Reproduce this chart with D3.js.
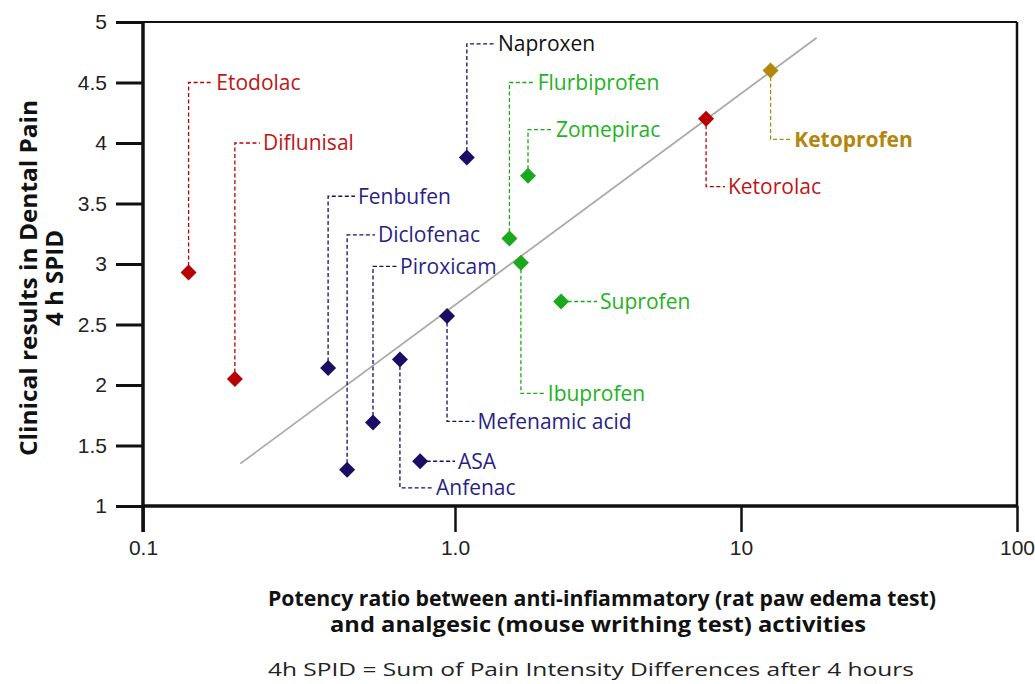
<!DOCTYPE html>
<html>
<head>
<meta charset="utf-8">
<script src="https://cdn.jsdelivr.net/npm/d3@7"></script>
<style>
  body { margin: 0; background: #fff; }
  svg { font-family: "Open Sans", "Noto Sans", sans-serif; }
</style>
</head>
<body>
<svg id="chart"></svg>
<script>
// data
const drugs = ['Etodolac', 'Diflunisal', 'Fenbufen', 'Diclofenac', 'Piroxicam', 'Anfenac', 'ASA',
  'Mefenamic acid', 'Naproxen', 'Flurbiprofen', 'Zomepirac', 'Ibuprofen', 'Suprofen', 'Ketorolac', 'Ketoprofen'];
const potency = [0.140, 0.197, 0.392, 0.451, 0.546, 0.666, 0.773, 0.943, 1.10, 1.55, 1.80, 1.70, 2.35, 7.55, 12.8];
const spid = [2.93, 2.05, 2.14, 1.30, 1.69, 2.21, 1.37, 2.57, 3.88, 3.21, 3.73, 3.01, 2.69, 4.20, 4.60];
const group = ['red', 'red', 'navy', 'navy', 'navy', 'navy', 'navy', 'navy', 'navy', 'green', 'green', 'green', 'green', 'red', 'gold'];
const trend = [[0.205, 1.35], [18.8, 4.87]];
const xTicks = [0.1, 1, 10, 100];
const xTickLabels = ['0.1', '1.0', '10', '100'];
const yTicks = [1, 1.5, 2, 2.5, 3, 3.5, 4, 4.5, 5];

// where each label's leader ends (in data units)
const labelAnchors = [[0.168, 4.5], [0.237, 4.0], [0.478, 3.56], [0.554, 3.24], [0.652, 2.98], [0.85, 1.15], [1.0, 1.37],
  [1.17, 1.70], [1.38, 4.82], [1.90, 4.5], [2.20, 4.11], [2.06, 1.93], [3.14, 2.69], [8.79, 3.64], [15.2, 4.03]];

const markColor = { red: '#b80000', navy: '#1a0d63', green: '#1ca81c', gold: '#b3860c' };
const textColor = { red: '#c01515', navy: '#2a1f85', green: '#22b322', gold: '#b3860c' };

const width = 1035, height = 684;
const svg = d3.select('#chart').attr('width', width).attr('height', height);

// log axis, tick spacing
const x = d3.scaleLog().domain([0.1, 1, 10, 100]).range([143, 455, 741, 1017]);
const y = d3.scaleLinear().domain([1, 5]).range([506, 22]);

// frame
svg.append('line').attr('x1', x(0.1)).attr('x2', x(100)).attr('y1', y(5)).attr('y2', y(5))
  .attr('stroke', '#111').attr('stroke-width', 2);
svg.append('line').attr('x1', x(100)).attr('x2', x(100)).attr('y1', y(5)).attr('y2', y(1))
  .attr('stroke', '#111').attr('stroke-width', 2.5);

// y axis
const yAxis = svg.append('g')
  .attr('transform', `translate(${x(0.1)},0)`)
  .call(d3.axisLeft(y).tickValues(yTicks).tickSize(27).tickPadding(9).tickFormat(d => d3.format('')(d)));
yAxis.select('.domain').remove();
yAxis.selectAll('.tick line').attr('stroke', '#111').attr('stroke-width', 3);
yAxis.selectAll('.tick text').attr('font-size', 21).attr('fill', '#222');
svg.append('line').attr('x1', x(0.1)).attr('x2', x(0.1)).attr('y1', y(5) - 1).attr('y2', 532)
  .attr('stroke', '#111').attr('stroke-width', 3.5);

// x axis
const xAxis = svg.append('g')
  .attr('transform', `translate(0,${y(1)})`)
  .call(d3.axisBottom(x).tickValues(xTicks).tickSize(26).tickPadding(8).tickFormat((d, i) => xTickLabels[i]));
xAxis.select('.domain').attr('stroke', '#111').attr('stroke-width', 3.5).attr('d', `M${x(0.1)},0H${x(100)}`);
xAxis.selectAll('.tick line').attr('stroke', '#111').attr('stroke-width', 2.5);
xAxis.selectAll('.tick text').attr('font-size', 21).attr('fill', '#222');

// trend line
svg.append('line')
  .attr('x1', x(trend[0][0])).attr('y1', y(trend[0][1]))
  .attr('x2', x(trend[1][0])).attr('y2', y(trend[1][1]))
  .attr('stroke', '#aaa').attr('stroke-width', 1.8);

const pts = drugs.map((name, i) => ({
  name, px: potency[i], py: spid[i], g: group[i], lx: labelAnchors[i][0], ly: labelAnchors[i][1]
}));

// leaders
svg.selectAll('.leader')
  .data(pts)
  .enter().append('path')
  .attr('class', 'leader')
  .attr('fill', 'none')
  .attr('stroke', d => markColor[d.g])
  .attr('stroke-width', 1.3)
  .attr('stroke-dasharray', '4,2.5')
  .attr('d', d => `M${x(d.px)},${y(d.py)}V${y(d.ly)}H${x(d.lx)}`);

// markers
svg.selectAll('.mark')
  .data(pts)
  .enter().append('path')
  .attr('class', 'mark')
  .attr('d', d3.symbol().type(d3.symbolSquare).size(128))
  .attr('transform', d => `translate(${x(d.px)},${y(d.py)}) rotate(45)`)
  .attr('fill', d => markColor[d.g]);

// labels
svg.selectAll('.label')
  .data(pts)
  .enter().append('text')
  .attr('class', 'label')
  .attr('x', d => x(d.lx) + 3)
  .attr('y', d => y(d.ly))
  .attr('dy', '0.35em')
  .attr('font-size', 21)
  .attr('font-weight', d => d.name === 'Ketoprofen' ? 700 : 400)
  .attr('fill', d => d.name === 'Naproxen' ? '#111' : textColor[d.g])
  .text(d => d.name);

// axis titles
const yTitle = svg.append('g').attr('transform', 'translate(0,278) rotate(-90)');
yTitle.append('text').attr('x', 0).attr('y', 37).attr('text-anchor', 'middle')
  .attr('font-size', 23).attr('font-weight', 700).attr('fill', '#111')
  .attr('textLength', 356).attr('lengthAdjust', 'spacingAndGlyphs')
  .text('Clinical results in Dental Pain');
yTitle.append('text').attr('x', 0).attr('y', 63).attr('text-anchor', 'middle')
  .attr('font-size', 23).attr('font-weight', 700).attr('fill', '#111')
  .attr('textLength', 96).attr('lengthAdjust', 'spacingAndGlyphs')
  .text('4 h SPID');

svg.append('text').attr('x', 602).attr('y', 606).attr('text-anchor', 'middle')
  .attr('font-size', 21).attr('font-weight', 700).attr('fill', '#111')
  .attr('textLength', 668).attr('lengthAdjust', 'spacingAndGlyphs')
  .text('Potency ratio between anti-infiammatory (rat paw edema test)');
svg.append('text').attr('x', 598).attr('y', 632).attr('text-anchor', 'middle')
  .attr('font-size', 21).attr('font-weight', 700).attr('fill', '#111')
  .attr('textLength', 536).attr('lengthAdjust', 'spacingAndGlyphs')
  .text('and analgesic (mouse writhing test) activities');
svg.append('text').attr('x', 591).attr('y', 676).attr('text-anchor', 'middle')
  .attr('font-size', 19).attr('fill', '#222')
  .attr('textLength', 646).attr('lengthAdjust', 'spacingAndGlyphs')
  .text('4h SPID = Sum of Pain Intensity Differences after 4 hours');
</script>
</body>
</html>
